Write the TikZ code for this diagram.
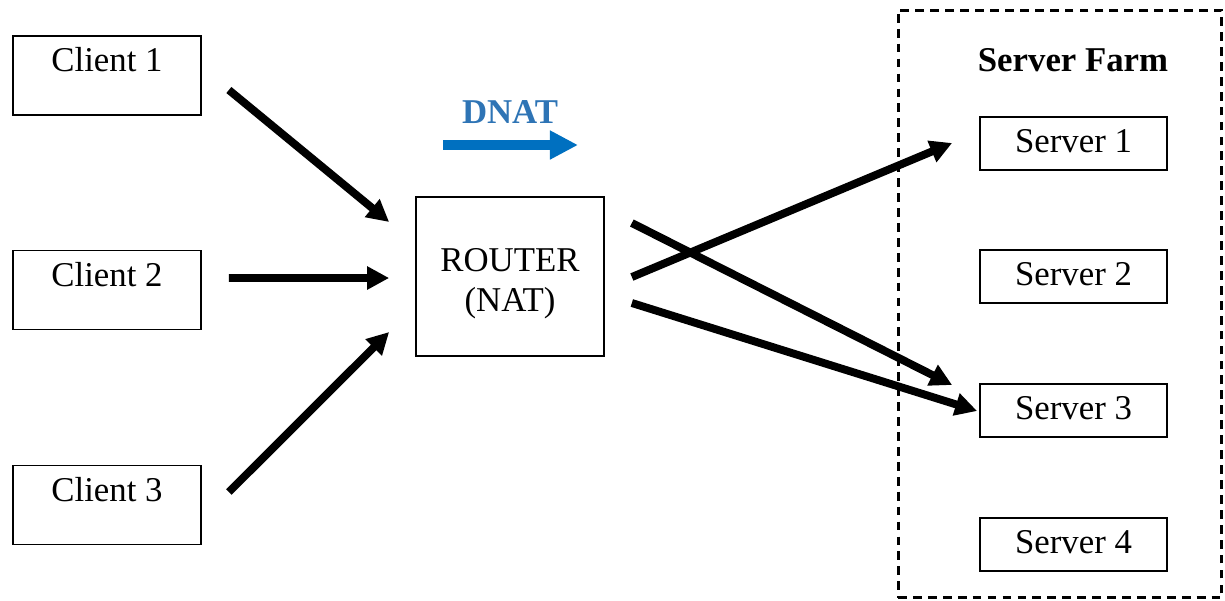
\documentclass[tikz,border=0pt]{standalone}
\usepackage{fontspec}
\setmainfont{Liberation Serif}
\usetikzlibrary{arrows.meta}
\definecolor{dnatblue}{RGB}{0,112,192}
\definecolor{dnattext}{RGB}{46,116,181}
\begin{document}
\begin{tikzpicture}[x=0.02cm,y=-0.02cm,
    every node/.style={font=\fontsize{19.8pt}{22.7pt}\selectfont},
    client/.style={draw,line width=1pt,inner sep=0pt,minimum width=3.76cm,text height=0.71cm,text depth=0.87cm},
    server/.style={draw,line width=1pt,inner sep=0pt,minimum width=3.74cm,text height=0.71cm,text depth=0.35cm},
    flow/.style={line width=4.5pt,-{Triangle[length=12.5pt,width=12.5pt]}}]
      \useasboundingbox (0,0) rectangle (1225,600);

      \node[client] (c1) at (107,75.5) {Client 1};
      \node[client] (c2) at (107,290) {Client 2};
      \node[client] (c3) at (107,505) {Client 3};

      \node[draw,line width=1pt,inner sep=0pt,minimum width=3.76cm,text height=2.29cm,text depth=0.89cm,align=center] (router) at (510,276.5) {ROUTER\\(NAT)};

      \node[text=dnattext,font=\fontsize{19.8pt}{22.7pt}\selectfont\bfseries] (dnat) at (510,112) {DNAT};
      \coordinate (dnatL) at (443,145);
      \coordinate (dnatR) at (578,145);
      \draw[dnatblue,line width=5.2pt,-{Triangle[length=16pt,width=15.5pt]}] (dnatL) -- (dnatR);

      \node[draw,dashed,line width=1.7pt,dash pattern=on 5pt off 3.5pt,minimum width=6.48cm,minimum height=11.76cm] (farm) at (1060,304) {};
      \node[font=\fontsize{19.8pt}{22.7pt}\selectfont\bfseries] (farmtitle) at (1073,60) {Server Farm};

      \node[server] (s1) at (1073.5,143.5) {Server 1};
      \node[server] (s2) at (1073.5,276.5) {Server 2};
      \node[server] (s3) at (1073.5,410.5) {Server 3};
      \node[server] (s4) at (1073.5,544.5) {Server 4};

      \draw[flow] ([shift={(27,14.5)}]c1.east) -- ([shift={(-26,-54.5)}]router.west);
      \draw[flow] ([shift={(27,-12)}]c2.east) -- ([shift={(-26,1.5)}]router.west);
      \draw[flow] ([shift={(27,-13)}]c3.east) -- ([shift={(-26,55.5)}]router.west);

      \draw[flow] ([shift={(27,0.5)}]router.east) -- ([shift={(-27,-0.5)}]s1.west);
      \draw[flow] ([shift={(27,-53.5)}]router.east) -- ([shift={(-27,-25.5)}]s3.west);
      \draw[flow] ([shift={(27,26.5)}]router.east) -- ([shift={(-2,0.5)}]s3.west);
    \end{tikzpicture}
\end{document}
